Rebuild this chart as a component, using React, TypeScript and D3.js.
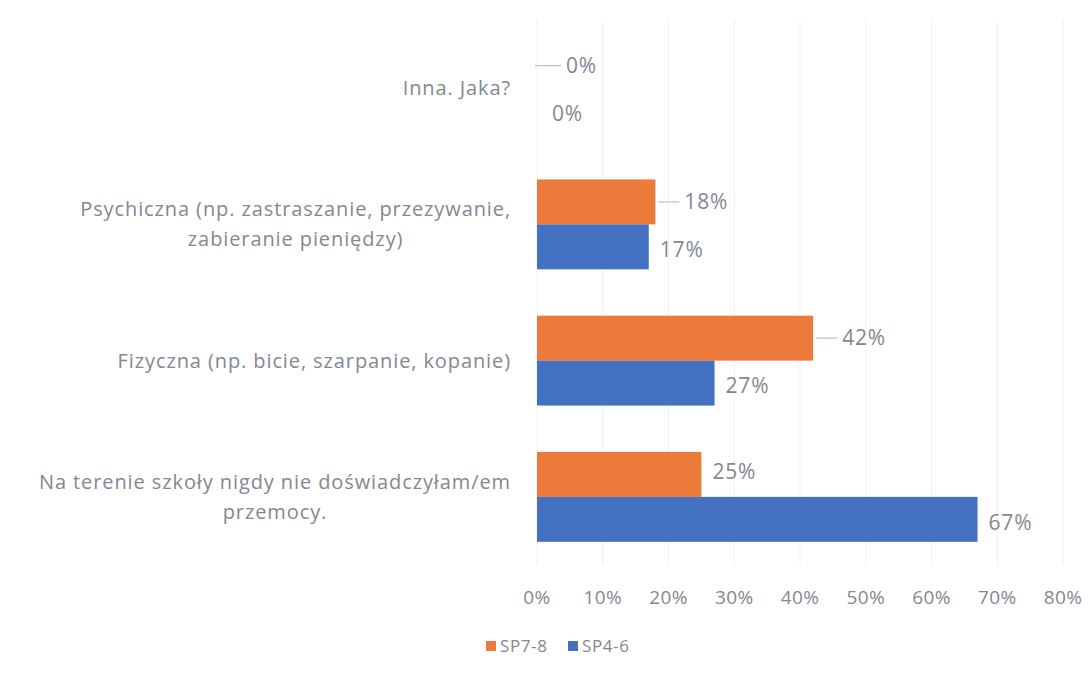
import React, { useEffect, useRef } from "react";
import * as d3 from "d3";

const categories = [
  "Inna. Jaka?",
  "Psychiczna (np. zastraszanie, przezywanie,\nzabieranie pieniędzy)",
  "Fizyczna (np. bicie, szarpanie, kopanie)",
  "Na terenie szkoły nigdy nie doświadczyłam/em\nprzemocy.",
];
const seriesNames = ["SP7-8", "SP4-6"];
const sp78 = [0, 18, 42, 25];
const sp46 = [0, 17, 27, 67];
const xTicks = [0, 10, 20, 30, 40, 50, 60, 70, 80];
const sp78Leader = [true, true, true, false];

const W = 1090;
const H = 677;
const FONT = "'Open Sans', sans-serif";
const TEXT = "#848891";
const ORANGE = "#ec7a3a";
const BLUE = "#4471c1";
const LEADER = "#b4c0d0";

export default function App() {
  const ref = useRef<SVGSVGElement | null>(null);

  useEffect(() => {
    const svg = d3.select(ref.current);
    svg.selectAll("*").remove();

    const x = d3.scaleLinear().domain([0, 80]).range([537, 1063]);
    const y = d3
      .scaleBand<string>()
      .domain(categories)
      .range([20, 565])
      .paddingInner(0.34)
      .paddingOuter(0.17);
    const ySub = d3
      .scaleBand<string>()
      .domain(seriesNames)
      .range([0, y.bandwidth()]);

    // gridlines
    svg
      .append("g")
      .selectAll("line")
      .data(xTicks)
      .join("line")
      .attr("x1", (d) => x(d))
      .attr("x2", (d) => x(d))
      .attr("y1", 20)
      .attr("y2", 565)
      .attr("stroke", "#f0f0f0")
      .attr("stroke-width", 1);

    const series = [
      { name: seriesNames[0], values: sp78, color: ORANGE },
      { name: seriesNames[1], values: sp46, color: BLUE },
    ];

    // bars
    series.forEach((s) => {
      svg
        .append("g")
        .selectAll("rect")
        .data(s.values)
        .join("rect")
        .attr("x", x(0))
        .attr("y", (_d, i) => (y(categories[i]) as number) + (ySub(s.name) as number))
        .attr("width", (d) => x(d) - x(0))
        .attr("height", ySub.bandwidth())
        .attr("fill", s.color);
    });

    const labelText = (sel: any) =>
      sel
        .attr("dy", "0.35em")
        .attr("font-family", FONT)
        .attr("font-size", 21)
        .attr("letter-spacing", "0.8px")
        .attr("fill", TEXT);

    // labels SP7-8
    sp78.forEach((v, i) => {
      const cy = (y(categories[i]) as number) + (ySub(seriesNames[0]) as number) + ySub.bandwidth() / 2;
      const end = x(v);
      if (sp78Leader[i]) {
        svg
          .append("line")
          .attr("x1", end + (v === 0 ? -2 : 3))
          .attr("x2", end + 24)
          .attr("y1", cy)
          .attr("y2", cy)
          .attr("stroke", LEADER)
          .attr("stroke-width", 1.2);
        labelText(svg.append("text").attr("x", end + 29).attr("y", cy)).text(`${v}%`);
      } else {
        labelText(svg.append("text").attr("x", end + 11).attr("y", cy - 3)).text(`${v}%`);
      }
    });

    // labels SP4-6
    sp46.forEach((v, i) => {
      const cy = (y(categories[i]) as number) + (ySub(seriesNames[1]) as number) + ySub.bandwidth() / 2;
      labelText(
        svg
          .append("text")
          .attr("x", x(v) + (v === 0 ? 15 : 11))
          .attr("y", cy + 3)
      ).text(`${v}%`);
    });

    // category labels
    categories.forEach((c) => {
      const lines = c.split("\n");
      const g = svg.append("g");
      const cy = (y(c) as number) + y.bandwidth() / 2;
      const lh = 30;
      const texts = lines.map((ln, k) =>
        g
          .append("text")
          .attr("y", cy + (k - (lines.length - 1) / 2) * lh)
          .attr("dy", "0.35em")
          .attr("font-family", FONT)
          .attr("font-size", 20)
          .attr("letter-spacing", "0.9px")
          .attr("fill", TEXT)
          .attr("text-anchor", "middle")
          .text(ln)
      );
      const widths = texts.map((t) => (t.node() as SVGTextElement).getComputedTextLength());
      const maxW = Math.max(...widths);
      const right = 511;
      texts.forEach((t) => t.attr("x", right - maxW / 2));
    });

    // x tick labels
    svg
      .append("g")
      .selectAll("text")
      .data(xTicks)
      .join("text")
      .attr("x", (d) => x(d))
      .attr("y", 597)
      .attr("dy", "0.35em")
      .attr("text-anchor", "middle")
      .attr("font-family", FONT)
      .attr("font-size", 19)
      .attr("letter-spacing", "0.4px")
      .attr("fill", TEXT)
      .text((d) => `${d}%`);

    // legend
    const legend = svg.append("g");
    const legX = [486, 568];
    series.forEach((s, i) => {
      legend
        .append("rect")
        .attr("x", legX[i])
        .attr("y", 641)
        .attr("width", 10)
        .attr("height", 10)
        .attr("fill", s.color);
      legend
        .append("text")
        .attr("x", legX[i] + 14)
        .attr("y", 646)
        .attr("dy", "0.35em")
        .attr("font-family", FONT)
        .attr("font-size", 17)
        .attr("letter-spacing", "0.6px")
        .attr("fill", TEXT)
        .text(s.name);
    });
  }, []);

  return (
    <svg
      ref={ref}
      width={W}
      height={H}
      style={{ position: "absolute", left: 0, top: 0, background: "#fff" }}
    />
  );
}
